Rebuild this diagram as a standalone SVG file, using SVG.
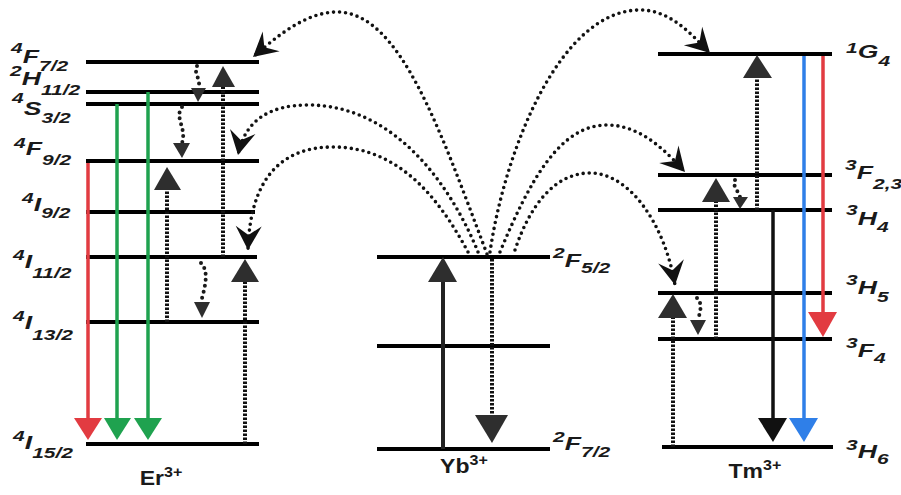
<svg xmlns="http://www.w3.org/2000/svg" width="901" height="495" viewBox="0 0 901 495">
<defs>
<marker id="barb" markerUnits="userSpaceOnUse" markerWidth="40" markerHeight="40" viewBox="-28 -20 40 40" refX="0" refY="0" orient="auto">
<path d="M0,0 L-24,-13 L-15,0 L-24,13 Z" fill="#111"/>
</marker>
<style>
.lv{stroke:#000;stroke-width:4;fill:none}
.lbl{font-family:"Liberation Sans",Arial,sans-serif;font-style:italic;font-weight:bold;fill:#1a1a1a}
.m{font-size:19px}
.s{font-size:15px}
.ion{font-family:"Liberation Sans",Arial,sans-serif;font-weight:bold;font-size:20px;fill:#1a1a1a}
.ion .up{font-size:14px}
.curve{fill:none;stroke:#111;stroke-width:3.6;stroke-dasharray:0 6;stroke-linecap:round;marker-end:url(#barb)}
.sq{fill:none;stroke:#1a1a1a;stroke-width:4;stroke-dasharray:0 6;stroke-linecap:round}
.dot{fill:none;stroke:#111;stroke-width:4;stroke-dasharray:2.4 1.6}
.tri{fill:#2e2e2e}
.red{stroke:#e23b41;stroke-width:3.5;fill:none}
.redf{fill:#e23b41}
.grn{stroke:#1fa24f;stroke-width:3.5;fill:none}
.grnf{fill:#1fa24f}
.blu{stroke:#2f7fe8;stroke-width:3.5;fill:none}
.bluf{fill:#2f7fe8}
.blk{stroke:#111;stroke-width:3.5;fill:none}
</style>
</defs>
<rect width="901" height="495" fill="#fff"/>

<!-- Er3+ levels -->
<g id="er-4F72"><line class="lv" x1="86" y1="62" x2="259" y2="62"/>
<text class="lbl" transform="translate(11 0) scale(1.4 1)"><tspan class="s" x="0" y="53">4</tspan><tspan class="m" x="8.4" y="63">F</tspan><tspan class="s" x="20" y="71">7/2</tspan></text></g>
<g id="er-2H112"><line class="lv" x1="86" y1="92" x2="259" y2="92"/>
<text class="lbl" transform="translate(10 0) scale(1.4 1)"><tspan class="s" x="0" y="76">2</tspan><tspan class="m" x="8.4" y="85">H</tspan><tspan class="s" x="22.1" y="95">11/2</tspan></text></g>
<g id="er-4S32"><line class="lv" x1="86" y1="104" x2="259" y2="104"/>
<text class="lbl" transform="translate(12 0) scale(1.4 1)"><tspan class="s" x="0" y="103">4</tspan><tspan class="m" x="8.4" y="115">S</tspan><tspan class="s" x="21.1" y="123">3/2</tspan></text></g>
<g id="er-4F92"><line class="lv" x1="86" y1="161" x2="259" y2="161"/>
<text class="lbl" transform="translate(14 0) scale(1.4 1)"><tspan class="s" x="0" y="148">4</tspan><tspan class="m" x="8.4" y="155">F</tspan><tspan class="s" x="20" y="165">9/2</tspan></text></g>
<g id="er-4I92"><line class="lv" x1="86" y1="212" x2="255" y2="212"/>
<text class="lbl" transform="translate(22 0) scale(1.4 1)"><tspan class="s" x="0" y="203">4</tspan><tspan class="m" x="8.4" y="211">I</tspan><tspan class="s" x="13.7" y="218">9/2</tspan></text></g>
<g id="er-4I112"><line class="lv" x1="86" y1="257" x2="257" y2="257"/>
<text class="lbl" transform="translate(13 0) scale(1.4 1)"><tspan class="s" x="0" y="260">4</tspan><tspan class="m" x="8.4" y="268">I</tspan><tspan class="s" x="13.7" y="278">11/2</tspan></text></g>
<g id="er-4I132"><line class="lv" x1="86" y1="322" x2="259" y2="322"/>
<text class="lbl" transform="translate(13 0) scale(1.4 1)"><tspan class="s" x="0" y="321">4</tspan><tspan class="m" x="8.4" y="329">I</tspan><tspan class="s" x="13.7" y="340">13/2</tspan></text></g>
<g id="er-4I152"><line class="lv" x1="86" y1="444" x2="259" y2="444"/>
<text class="lbl" transform="translate(13 0) scale(1.4 1)"><tspan class="s" x="0" y="441">4</tspan><tspan class="m" x="8.4" y="449">I</tspan><tspan class="s" x="13.7" y="458">15/2</tspan></text></g>
<g id="er-ion"><text class="ion" text-anchor="middle" transform="translate(161 0) scale(1.15 1)"><tspan x="0" y="485">Er</tspan><tspan class="up" dy="-8">3+</tspan></text></g>

<!-- Yb3+ levels -->
<g id="yb-2F52"><line class="lv" x1="377" y1="257" x2="550" y2="257"/>
<text class="lbl" transform="translate(553 0) scale(1.4 1)"><tspan class="s" x="0" y="258">2</tspan><tspan class="m" x="8.4" y="267">F</tspan><tspan class="s" x="20" y="273">5/2</tspan></text></g>
<g id="yb-mid"><line class="lv" x1="377" y1="346" x2="550" y2="346"/></g>
<g id="yb-2F72"><line class="lv" x1="377" y1="449" x2="550" y2="449"/>
<text class="lbl" transform="translate(553 0) scale(1.4 1)"><tspan class="s" x="0" y="442">2</tspan><tspan class="m" x="8.4" y="450">F</tspan><tspan class="s" x="20" y="457">7/2</tspan></text></g>
<g id="yb-ion"><text class="ion" text-anchor="middle" transform="translate(464 0) scale(1.15 1)"><tspan x="0" y="473">Yb</tspan><tspan class="up" dy="-8">3+</tspan></text></g>

<!-- Tm3+ levels -->
<g id="tm-1G4"><line class="lv" x1="658" y1="54" x2="832" y2="54"/>
<text class="lbl" transform="translate(846 0) scale(1.4 1)"><tspan class="s" x="0" y="53">1</tspan><tspan class="m" x="8.4" y="58">G</tspan><tspan class="s" x="23.2" y="66">4</tspan></text></g>
<g id="tm-3F23"><line class="lv" x1="658" y1="175" x2="832" y2="175"/>
<text class="lbl" transform="translate(845 0) scale(1.4 1)"><tspan class="s" x="0" y="170">3</tspan><tspan class="m" x="8.4" y="179">F</tspan><tspan class="s" x="20" y="189">2,3</tspan></text></g>
<g id="tm-3H4"><line class="lv" x1="658" y1="210" x2="832" y2="210"/>
<text class="lbl" transform="translate(846 0) scale(1.4 1)"><tspan class="s" x="0" y="215">3</tspan><tspan class="m" x="8.4" y="225">H</tspan><tspan class="s" x="22.1" y="232">4</tspan></text></g>
<g id="tm-3H5"><line class="lv" x1="658" y1="293" x2="832" y2="293"/>
<text class="lbl" transform="translate(846 0) scale(1.4 1)"><tspan class="s" x="0" y="285">3</tspan><tspan class="m" x="8.4" y="294">H</tspan><tspan class="s" x="22.1" y="302">5</tspan></text></g>
<g id="tm-3F4"><line class="lv" x1="658" y1="339" x2="832" y2="339"/>
<text class="lbl" transform="translate(846 0) scale(1.4 1)"><tspan class="s" x="0" y="348">3</tspan><tspan class="m" x="8.4" y="357">F</tspan><tspan class="s" x="20" y="363">4</tspan></text></g>
<g id="tm-3H6"><line class="lv" x1="662" y1="447" x2="833" y2="447"/>
<text class="lbl" transform="translate(846 0) scale(1.4 1)"><tspan class="s" x="0" y="450">3</tspan><tspan class="m" x="8.4" y="458">H</tspan><tspan class="s" x="22.1" y="464">6</tspan></text></g>
<g id="tm-ion"><text class="ion" text-anchor="middle" transform="translate(755 0) scale(1.15 1)"><tspan x="0" y="478">Tm</tspan><tspan class="up" dy="-8">3+</tspan></text></g>

<g id="connectors">
<!-- Er emissions -->
<line class="red" x1="88" y1="163" x2="88" y2="420"/><polygon class="redf" points="74,418 102,418 88,440"/>
<line class="grn" x1="117" y1="104" x2="117" y2="420"/><polygon class="grnf" points="104,418 131,418 117,440"/>
<line class="grn" x1="148" y1="92" x2="148" y2="420"/><polygon class="grnf" points="134,418 162,418 148,440"/>
<!-- Er excitation (dotted) -->
<line class="dot" x1="167" y1="322" x2="167" y2="190"/><polygon class="tri" points="154,190 181,190 167,167"/>
<line class="dot" x1="223" y1="257" x2="223" y2="87"/><polygon class="tri" points="212,87 235,87 223,66"/>
<line class="dot" x1="245" y1="444" x2="245" y2="282"/><polygon class="tri" points="231,282 259,282 245,259"/>
<!-- Er non-radiative -->
<path class="sq" d="M197,66 C193,74 202,80 198,88"/><polygon class="tri" points="191,88 206,88 198,102"/>
<path class="sq" d="M182,107 C174,118 187,128 182,143"/><polygon class="tri" points="173,143 190,143 182,158"/>
<path class="sq" d="M201,263 C210,272 204,290 201,302"/><polygon class="tri" points="194,302 210,302 202,318"/>
<!-- Yb -->
<line x1="443" y1="449" x2="443" y2="282" style="stroke:#222;stroke-width:4"/><polygon class="tri" points="428,282 457,282 443,257"/>
<line class="dot" x1="492" y1="259" x2="492" y2="415"/><polygon class="tri" points="475,415 508,415 492,443"/>
<!-- Energy transfer curves -->
<path class="curve" d="M487,254 C440,130 400,12 337,12 C305,12 275,38 253,57"/>
<path class="curve" d="M478,252 C455,195 400,105 308,105 C270,105 245,120 238,155"/>
<path class="curve" d="M468,252 C440,200 400,147 333,147 C280,147 250,180 248,250"/>
<path class="curve" d="M490,252 C505,150 560,10 640,10 C670,10 690,33 710,53"/>
<path class="curve" d="M500,252 C530,180 560,125 607,125 C640,125 665,150 685,172"/>
<path class="curve" d="M515,250 C530,205 555,173 590,173 C630,173 665,225 675,285"/>
<!-- Tm emissions -->
<line class="blu" x1="804" y1="56" x2="804" y2="420"/><polygon class="bluf" points="789,418 818,418 804,442"/>
<line class="red" x1="823" y1="56" x2="823" y2="314"/><polygon class="redf" points="808,312 837,312 823,337"/>
<line class="blk" x1="773" y1="210" x2="773" y2="420"/><polygon points="758,418 787,418 773,442" fill="#111"/>
<!-- Tm excitation -->
<line class="dot" x1="757" y1="210" x2="757" y2="78"/><polygon class="tri" points="743,78 772,78 757,55"/>
<line class="dot" x1="716" y1="339" x2="716" y2="202"/><polygon class="tri" points="702,202 730,202 716,178"/>
<line class="dot" x1="673" y1="447" x2="673" y2="318"/><polygon class="tri" points="658,318 687,318 673,294"/>
<!-- Tm non-radiative -->
<path class="sq" d="M735,180 C732,186 738,190 740,197"/><polygon class="tri" points="733,197 748,197 740,209"/>
<path class="sq" d="M697,298 C703,304 700,312 698,320"/><polygon class="tri" points="690,320 706,320 698,335"/>
</g>
</svg>
